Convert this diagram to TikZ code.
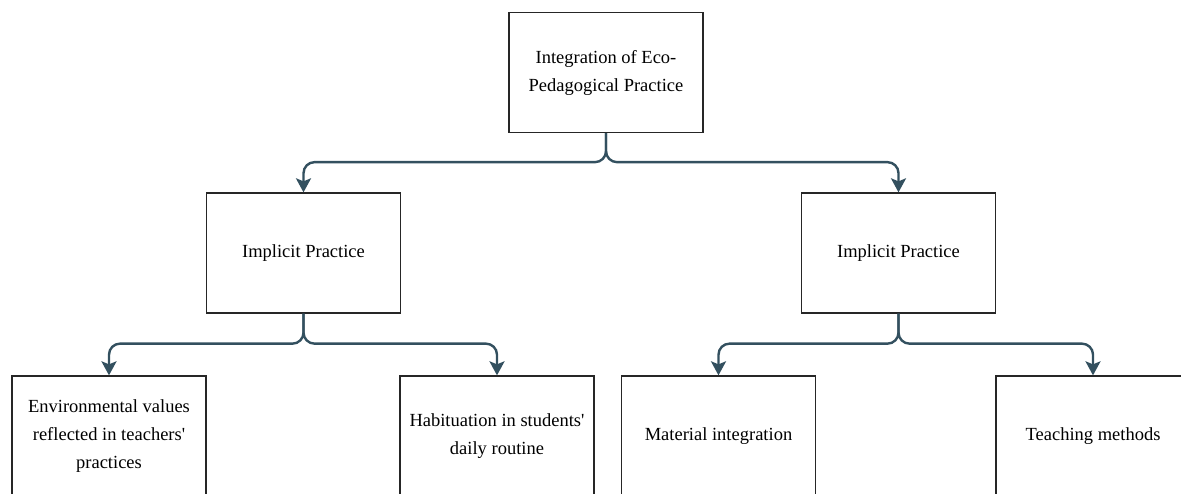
\documentclass[tikz,border=0pt]{standalone}
\usepackage{fontspec}
\setmainfont{Liberation Serif}
\usetikzlibrary{arrows.meta}
\definecolor{linkcol}{HTML}{33505F}
\tikzset
{
    box/.style  = {draw=black!85, line width=1.3pt, align=center, minimum width=194pt, minimum height=120pt, font=\fontsize{18.5}{28}\selectfont},
    link/.style = {draw=linkcol, line width=2.4pt, rounded corners=11pt, -{Stealth[length=14pt,width=15pt,inset=3pt]}}
}

\begin{document}
\begin{tikzpicture}[x=1pt, y=-1pt]
    \useasboundingbox (0,0) rectangle (1181,494);
    \clip (0,0) rectangle (1181,494);
    % levels
    \node [box] (root) at (606,72.5) {Integration of Eco-\\Pedagogical Practice};
    \node [box] (left) at (303.5,253) {Implicit Practice};
    \node [box] (right) at (898.5,253) {Implicit Practice};
    \node [box] (envval) at (109,436) {Environmental values\\reflected in teachers\textquotesingle\\practices};
    \node [box] (habit) at (497,436) {Habituation in students\textquotesingle\\daily routine};
    \node [box] (matint) at (718.5,436) {Material integration};
    \node [box] (teach) at (1093,436) {Teaching methods};
    % connectors
    \draw [link] (root.south) -- ++(0,29) -| (left.north);
    \draw [link] (root.south) -- ++(0,29) -| (right.north);
    \draw [link] (left.south) -- ++(0,30) -| (envval.north);
    \draw [link] (left.south) -- ++(0,30) -| (habit.north);
    \draw [link] (right.south) -- ++(0,30) -| (matint.north);
    \draw [link] (right.south) -- ++(0,30) -| (teach.north);
\end{tikzpicture}
\end{document}
